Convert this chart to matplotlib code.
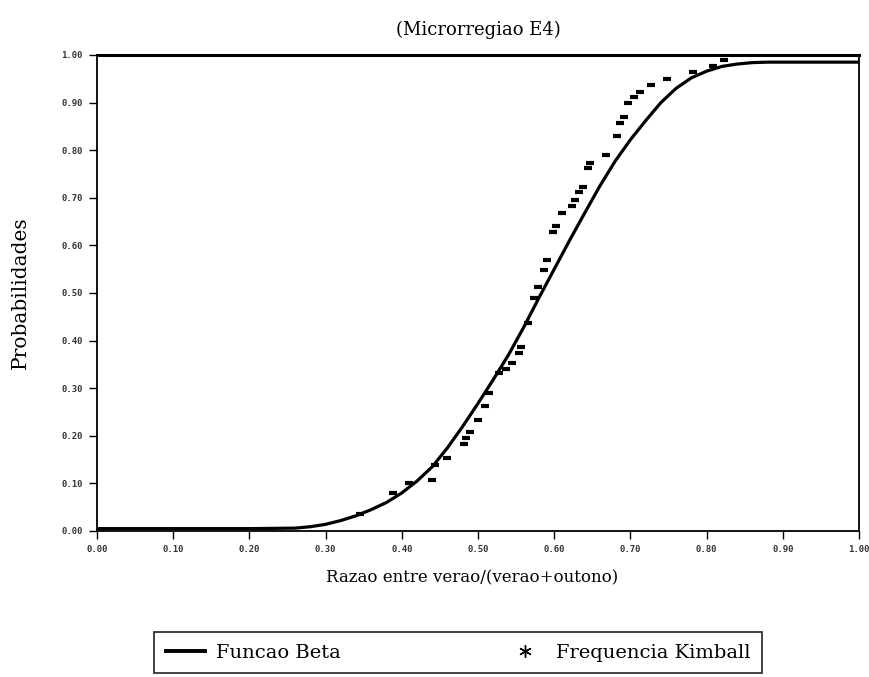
import matplotlib
matplotlib.use("Agg")
import matplotlib.pyplot as plt
from matplotlib.lines import Line2D

# Fitted Beta CDF curve
beta_x = [0.00, 0.20, 0.26, 0.28, 0.30, 0.32, 0.34, 0.36, 0.38, 0.40, 0.42, 0.44,
          0.46, 0.48, 0.50, 0.52, 0.54, 0.56, 0.58, 0.60, 0.62, 0.64, 0.66, 0.68,
          0.70, 0.72, 0.74, 0.76, 0.78, 0.80, 0.82, 0.84, 0.86, 0.88, 1.00]
beta_y = [0.005, 0.005, 0.006, 0.009, 0.014, 0.022, 0.032, 0.045, 0.060, 0.080, 0.105, 0.135,
          0.175, 0.220, 0.268, 0.318, 0.370, 0.428, 0.490, 0.550, 0.610, 0.668, 0.725, 0.777,
          0.822, 0.862, 0.900, 0.930, 0.952, 0.966, 0.976, 0.981, 0.984, 0.985, 0.985]

kim_x = [0.345, 0.389, 0.410, 0.439, 0.443, 0.459, 0.481, 0.484, 0.490, 0.500, 0.509,
         0.515, 0.528, 0.537, 0.544, 0.554, 0.557, 0.565, 0.573, 0.579, 0.587, 0.590,
         0.599, 0.603, 0.610, 0.623, 0.627, 0.633, 0.638, 0.645, 0.647, 0.668, 0.683,
         0.687, 0.692, 0.697, 0.705, 0.713, 0.727, 0.748, 0.782, 0.809, 0.823]
kim_y = [0.035, 0.080, 0.100, 0.108, 0.138, 0.153, 0.183, 0.195, 0.208, 0.233, 0.263,
         0.290, 0.332, 0.340, 0.353, 0.374, 0.386, 0.437, 0.490, 0.513, 0.548, 0.570,
         0.628, 0.640, 0.668, 0.683, 0.695, 0.712, 0.723, 0.763, 0.773, 0.790, 0.830,
         0.857, 0.870, 0.900, 0.912, 0.922, 0.937, 0.950, 0.964, 0.977, 0.989]

ticks = [0.0, 0.1, 0.2, 0.3, 0.4, 0.5, 0.6, 0.7, 0.8, 0.9, 1.0]
tick_labels = ["0.00", "0.10", "0.20", "0.30", "0.40", "0.50",
               "0.60", "0.70", "0.80", "0.90", "1.00"]

title = "(Microrregiao E4)"
xlabel = "Razao entre verao/(verao+outono)"
ylabel = "Probabilidades"
legend_labels = ["Funcao Beta", "Frequencia Kimball"]

serif = ["DejaVu Serif", "Liberation Serif"]

fig = plt.figure(figsize=(8.70, 6.77), dpi=100, facecolor="white")
ax = fig.add_axes([97 / 870, 1 - 531 / 677, (859 - 97) / 870, (531 - 55) / 677])

ax.plot(beta_x, beta_y, color="black", lw=2.3, solid_capstyle="round")
ax.plot(kim_x, kim_y, linestyle="none", marker="_", markersize=5.5,
        markeredgewidth=3.0, color="black")

ax.set_xlim(0, 1)
ax.set_ylim(0, 1)
ax.set_xticks(ticks)
ax.set_xticklabels(tick_labels)
ax.set_yticks(ticks)
ax.set_yticklabels(tick_labels)
ax.tick_params(direction="out", length=6, width=1, labelsize=6.5,
               labelcolor="#333333", pad=4)
for lab in ax.get_xticklabels() + ax.get_yticklabels():
    lab.set_family("DejaVu Sans Mono")
    lab.set_fontweight("bold")
for sp in ax.spines.values():
    sp.set_linewidth(1.3)
ax.spines["top"].set_linewidth(2.2)

fig.text(478 / 870, 1 - 30 / 677, title, ha="center", va="center",
         fontsize=13, family=serif)
fig.text(472 / 870, 1 - 578 / 677, xlabel, ha="center", va="center",
         fontsize=12, family=serif)
fig.text(20 / 870, 1 - 293 / 677, ylabel, ha="center", va="center",
         rotation=90, fontsize=14.5, family=serif)

handles = [Line2D([0], [0], color="black", lw=2.8),
           Line2D([0], [0], linestyle="none", marker=(6, 2, 0), markersize=9,
                  markeredgewidth=1.0, color="black")]
leg = fig.legend(handles, legend_labels, loc="upper left",
                 bbox_to_anchor=(154 / 870, 1 - 632 / 677, (762 - 154) / 870, 0.0),
                 mode="expand", ncol=2,
                 frameon=True, fancybox=False, edgecolor="black",
                 prop={"family": serif, "size": 14}, handlelength=2.0,
                 handletextpad=0.6, columnspacing=4.0, borderpad=0.6,
                 borderaxespad=0)
leg.get_frame().set_linewidth(1.3)

fig.savefig("out.png", dpi=100, facecolor="white")
